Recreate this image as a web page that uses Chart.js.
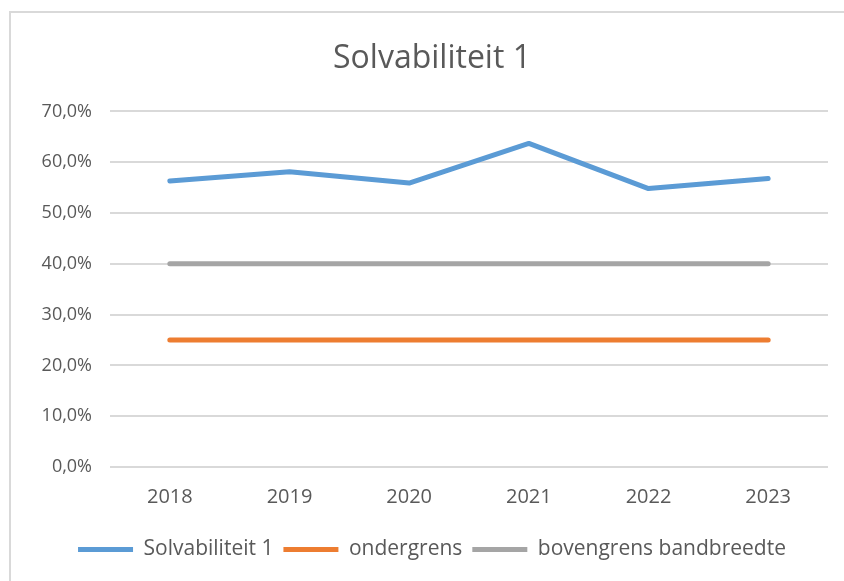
<!DOCTYPE html>
<html>
<head>
<meta charset="utf-8">
<script src="https://cdn.jsdelivr.net/npm/chart.js@4.4.1/dist/chart.umd.min.js"></script>
<style>
    html, body { margin: 0; padding: 0; background: #fff; overflow: hidden; }
    #frame { position: absolute; left: 9px; top: 11px; width: 900px; height: 700px;
             border-left: 2px solid #d9d9d9; border-top: 2px solid #d9d9d9; }
    #wrap { position: absolute; left: 0; top: 0; width: 844px; height: 581px; }
</style>
</head>
<body>
<div id="frame"></div>
<div id="wrap"><canvas id="grafico"></canvas></div>
<script>
// data
var jaren = ['2018', '2019', '2020', '2021', '2022', '2023'];
var solvabiliteit = [56.3, 58.1, 55.9, 63.7, 54.8, 56.8];
var ondergrens = [25, 25, 25, 25, 25, 25];
var bovengrens = [40, 40, 40, 40, 40, 40];
var yTicks = [0, 10, 20, 30, 40, 50, 60, 70];

var tekstKleur = '#595959';
var lettertype = "'Open Sans', 'Liberation Sans', sans-serif";

function lijn(label, data, kleur) {
    return {
        label: label,
        data: data,
        borderColor: kleur,
        backgroundColor: kleur,
        borderWidth: 5,
        borderCapStyle: 'round',
        borderJoinStyle: 'round',
        pointRadius: 0,
        pointHoverRadius: 0,
        tension: 0
    };
}

var ctx = document.getElementById('grafico').getContext('2d');
var chart = new Chart(ctx, {
    type: 'line',
    data: {
        labels: jaren,
        datasets: [
            lijn('Solvabiliteit 1', solvabiliteit, '#5b9bd5'),
            lijn('ondergrens', ondergrens, '#ed7d31'),
            lijn('bovengrens bandbreedte', bovengrens, '#a5a5a5')
        ]
    },
    options: {
        responsive: true,
        maintainAspectRatio: false,
        animation: false,
        // left padding pushes title and legend centre to the right, like the original
        layout: { padding: { left: 36, right: 16, top: 28, bottom: 11 } },
        plugins: {
            title: {
                display: true,
                text: 'Solvabiliteit 1',
                color: tekstKleur,
                font: { family: lettertype, size: 32, weight: 'normal' },
                padding: { top: 12, bottom: 33 }
            },
            legend: {
                position: 'bottom',
                labels: {
                    color: tekstKleur,
                    font: { family: lettertype, size: 21 },
                    usePointStyle: true,
                    pointStyle: 'line',
                    pointStyleWidth: 55,
                    padding: 10
                }
            },
            tooltip: { enabled: false }
        },
        scales: {
            x: {
                offset: true,
                grid: { display: false, drawTicks: false },
                border: { display: false },
                ticks: {
                    color: tekstKleur,
                    font: { family: lettertype, size: 20 },
                    padding: 18,
                    maxRotation: 0
                },
                afterFit: function (scale) { scale.height = 62; }
            },
            y: {
                min: 0,
                max: 70,
                afterBuildTicks: function (scale) {
                    scale.ticks = yTicks.map(function (v) { return { value: v }; });
                },
                grid: { color: '#d9d9d9', lineWidth: 2, drawTicks: false },
                border: { display: false },
                ticks: {
                    color: tekstKleur,
                    font: { family: lettertype, size: 18 },
                    padding: 18,
                    callback: function (v) { return v.toFixed(1).replace('.', ',') + '%'; }
                },
                afterFit: function (scale) { scale.width = 74; }
            }
        }
    }
});
chart.update();
</script>
</body>
</html>
